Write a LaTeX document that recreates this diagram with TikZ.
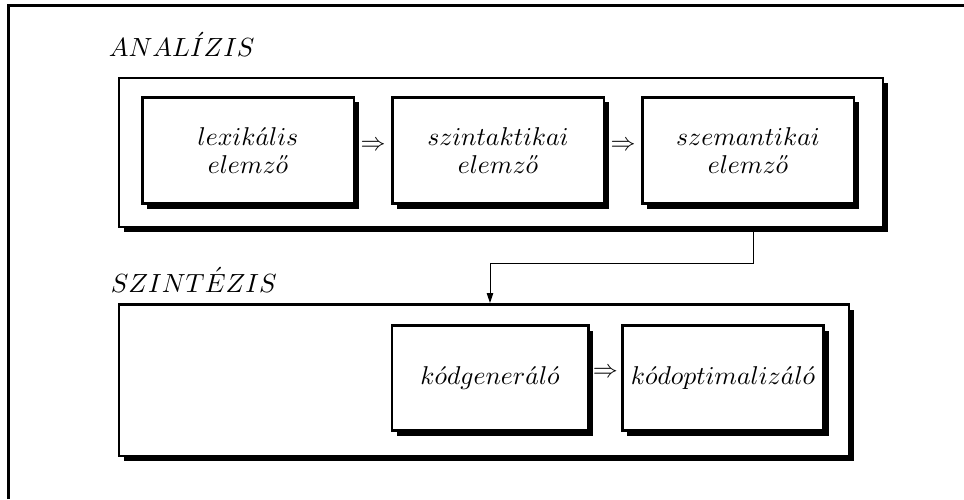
\documentclass[tikz,border=0pt]{standalone}
\usepackage{graphicx}
\usetikzlibrary{shadows,arrows.meta}
% double acute accent for math italic letters
\newcommand{\dac}{\mathaccent"707D}
\newcommand{\nyujt}[1]{\scalebox{1.03}{#1}}
\newcommand{\cimnyujt}[1]{\scalebox{1.05}{#1}}

\tikzset{
  fazis/.style={draw, line width=1pt, fill=white,
    drop shadow={shadow xshift=2pt, shadow yshift=-2.1pt, opacity=1, fill=black}},
  modul/.style={draw, line width=1pt, fill=white, align=center,
    minimum height=42.4pt, font=\fontsize{10}{11.2}\selectfont,
    drop shadow={shadow xshift=2pt, shadow yshift=-2pt, opacity=1, fill=black}},
  nyil/.style={yshift=1.9pt},
  conn/.style={line width=0.4pt, -{Triangle[length=4pt,width=2.6pt]}}
}

\begin{document}
\begin{tikzpicture}[x=0.4pt,y=-0.4pt]
\useasboundingbox (0,0) rectangle (964,499);
\draw[line width=1pt] (8.5,499) |- (964,5.5);

% analizis
\node[anchor=base west] (anacim) at (100,57) {\cimnyujt{$ANAL\acute{I}ZIS$}};
\node[fazis, minimum width=305.4pt, minimum height=59.4pt] (analizis) at (501,152.5) {};
\node[modul, minimum width=84.6pt] (lex) at (248,150.5)
  {\nyujt{$lexik\acute{a}lis$}\\\nyujt{$elemz\dac{o}$}};
\node[modul, minimum width=84.6pt] (szint) at (498,150.5)
  {\nyujt{$szintaktikai$}\\\nyujt{$elemz\dac{o}$}};
\node[modul, minimum width=84.6pt] (szem) at (748,150.5)
  {\nyujt{$szemantikai$}\\\nyujt{$elemz\dac{o}$}};
\path (lex) -- node[nyil] {$\Rightarrow$} (szint);
\path (szint) -- node[nyil] {$\Rightarrow$} (szem);

% szintezis
\node[anchor=base west] (szintcim) at (102,292) {\cimnyujt{$SZINT\acute{E}ZIS$}};
\node[fazis, minimum width=291.8pt, minimum height=60.6pt] (szintezis) at (484,380) {};
\node[modul, minimum width=78.6pt, minimum height=42pt] (kodgen) at (490,378)
  {\nyujt{$k\acute{o}dgener\acute{a}l\acute{o}$}};
\node[modul, minimum width=78.6pt, minimum height=42pt] (kodopt) at (723,378)
  {\nyujt{$k\acute{o}doptimaliz\acute{a}l\acute{o}$}};
\path (kodgen) -- node[nyil] {$\Rightarrow$} (kodopt);

\draw[conn] (analizis.south -| szem) ++(5,0) -- ++(0,35) -| (kodgen.north |- szintezis.north);
\end{tikzpicture}
\end{document}
